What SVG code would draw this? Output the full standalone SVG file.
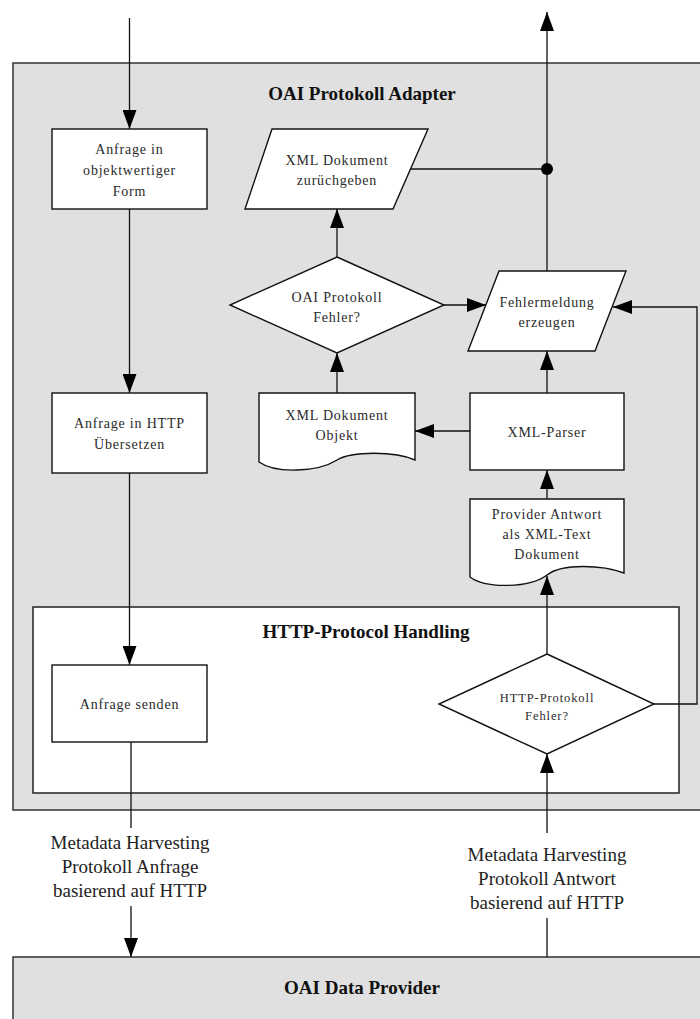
<svg xmlns="http://www.w3.org/2000/svg" width="700" height="1019" viewBox="0 0 700 1019">
  <style>
    .frame { fill: #e0e0e0; stroke: #333; stroke-width: 1.5; }
    .inner { fill: #fff; stroke: #222; stroke-width: 1.5; }
    .shape { fill: #fff; stroke: #111; stroke-width: 1.4; }
    .wire { fill: none; stroke: #111; stroke-width: 1.3; }
    .arrow { fill: none; stroke: #111; stroke-width: 1.3; marker-end: url(#head); }
    .t { font-family: "Liberation Serif", "Times New Roman", serif; font-size: 14px; letter-spacing: 0.8px; fill: #2a2a2a; text-anchor: middle; }
    .ts { font-family: "Liberation Serif", "Times New Roman", serif; font-size: 12.5px; letter-spacing: 0.9px; fill: #2a2a2a; text-anchor: middle; }
    .title { font-family: "Liberation Serif", "Times New Roman", serif; font-size: 19px; font-weight: bold; fill: #111; text-anchor: middle; }
    .lbl { font-family: "Liberation Serif", "Times New Roman", serif; font-size: 19px; fill: #222; text-anchor: middle; }
  </style>
  <defs>
    <marker id="head" markerUnits="userSpaceOnUse" markerWidth="20" markerHeight="14" refX="19" refY="7" orient="auto">
      <path d="M0,0 L19,7 L0,14 Z" fill="#000"/>
    </marker>
  </defs>

  <!-- containers -->
  <g id="adapter">
    <rect class="frame" x="13" y="63" width="720" height="747"/>
    <text class="title" x="362" y="100">OAI Protokoll Adapter</text>
  </g>
  <g id="http-handling">
    <rect class="inner" x="33" y="607" width="646" height="186"/>
    <text class="title" x="366" y="638">HTTP-Protocol Handling</text>
  </g>
  <g id="data-provider">
    <rect class="frame" x="13" y="957" width="720" height="80"/>
    <text class="title" x="362" y="994">OAI Data Provider</text>
  </g>

  <!-- connectors -->
  <g id="connectors">
    <line class="arrow" x1="129.5" y1="18" x2="129.5" y2="129"/>
    <line class="arrow" x1="129.5" y1="209" x2="129.5" y2="393"/>
    <line class="arrow" x1="129.5" y1="473" x2="129.5" y2="665"/>
    <line class="wire" x1="131" y1="742" x2="131" y2="828"/>
    <line class="arrow" x1="131" y1="906" x2="131" y2="957"/>

    <line class="wire" x1="547" y1="957" x2="547" y2="918"/>
    <line class="arrow" x1="547" y1="833" x2="547" y2="754"/>
    <line class="arrow" x1="547" y1="654" x2="547" y2="576"/>
    <line class="arrow" x1="547" y1="499" x2="547" y2="470"/>
    <line class="arrow" x1="470" y1="431" x2="415" y2="431"/>
    <line class="arrow" x1="337" y1="393" x2="337" y2="353"/>
    <line class="arrow" x1="337" y1="257" x2="337" y2="209"/>
    <line class="arrow" x1="444" y1="305" x2="486" y2="305"/>
    <line class="arrow" x1="547" y1="393" x2="547" y2="351"/>
    <polyline class="arrow" points="654,704 697,704 697,307 613,307"/>
    <line class="wire" x1="411" y1="169" x2="547" y2="169"/>
    <line class="arrow" x1="547" y1="271" x2="547" y2="12"/>
    <circle cx="547" cy="169" r="6" fill="#000"/>
  </g>

  <!-- nodes -->
  <g id="request-object">
    <rect class="shape" x="52" y="129" width="155" height="80"/>
    <text class="t" x="129.5" y="154">Anfrage in</text>
    <text class="t" x="129.5" y="175">objektwertiger</text>
    <text class="t" x="129.5" y="196">Form</text>
  </g>
  <g id="request-http">
    <rect class="shape" x="52" y="393" width="155" height="80"/>
    <text class="t" x="129.5" y="428">Anfrage in HTTP</text>
    <text class="t" x="129.5" y="449">Übersetzen</text>
  </g>
  <g id="send-request">
    <rect class="shape" x="52" y="665" width="155" height="77"/>
    <text class="t" x="129.5" y="709">Anfrage senden</text>
  </g>
  <g id="return-xml">
    <polygon class="shape" points="272,129 428,129 393,209 245,209"/>
    <text class="t" x="337" y="165">XML Dokument</text>
    <text class="t" x="337" y="185">zurüchgeben</text>
  </g>
  <g id="oai-error">
    <polygon class="shape" points="337,257 444,305 337,353 230,305"/>
    <text class="t" x="337" y="302">OAI Protokoll</text>
    <text class="t" x="337" y="322">Fehler?</text>
  </g>
  <g id="error-message">
    <polygon class="shape" points="499,271 626,271 595,351 468,351"/>
    <text class="t" x="547" y="307">Fehlermeldung</text>
    <text class="t" x="547" y="327">erzeugen</text>
  </g>
  <g id="xml-object">
    <path class="shape" d="M259,393 H415 V460 C395,451 352,451 337,460 C318,472 276,474 259,462 Z"/>
    <text class="t" x="337" y="420">XML Dokument</text>
    <text class="t" x="337" y="440">Objekt</text>
  </g>
  <g id="xml-parser">
    <rect class="shape" x="470" y="393" width="154" height="77"/>
    <text class="t" x="547" y="437">XML-Parser</text>
  </g>
  <g id="provider-response">
    <path class="shape" d="M470,499 H624 V573 C603,565 562,563 547,575 C530,588 486,589 470,577 Z"/>
    <text class="t" x="547" y="519">Provider Antwort</text>
    <text class="t" x="547" y="539">als XML-Text</text>
    <text class="t" x="547" y="559">Dokument</text>
  </g>
  <g id="http-error">
    <polygon class="shape" points="547,654 654,704 547,754 439,704"/>
    <text class="ts" x="547" y="702">HTTP-Protokoll</text>
    <text class="ts" x="547" y="720">Fehler?</text>
  </g>

  <!-- protocol labels -->
  <g id="request-label">
    <text class="lbl" x="130" y="849">Metadata Harvesting</text>
    <text class="lbl" x="130" y="873">Protokoll Anfrage</text>
    <text class="lbl" x="130" y="897">basierend auf HTTP</text>
  </g>
  <g id="response-label">
    <text class="lbl" x="547" y="861">Metadata Harvesting</text>
    <text class="lbl" x="547" y="885">Protokoll Antwort</text>
    <text class="lbl" x="547" y="909">basierend auf HTTP</text>
  </g>
</svg>
